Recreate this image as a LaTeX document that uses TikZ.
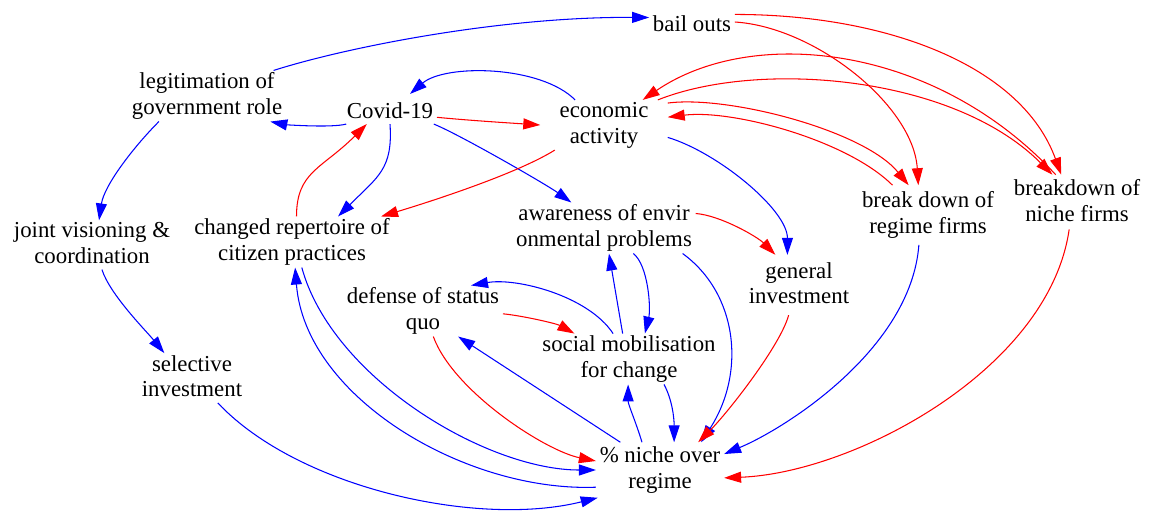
\documentclass[tikz,border=0pt]{standalone}
\usepackage{fontspec}
\setmainfont{Liberation Serif}
\usetikzlibrary{arrows.meta}

\newcommand{\varstrut}{\rule[-2.2pt]{0pt}{14.75pt}}

\tikzset{
  var/.style={inner xsep=2pt, inner ysep=1pt, align=center,
    font=\fontsize{13}{14.75}\selectfont,
    execute at begin node=\varstrut, execute at end node=\varstrut},
  bluelink/.style={draw=blue, line width=0.6pt, -{Triangle[length=0.34cm, width=0.22cm]}},
  redlink/.style={draw=red, line width=0.6pt, -{Triangle[length=0.34cm, width=0.22cm]}}
}

\begin{document}
\begin{tikzpicture}[x=0.02cm, y=-0.02cm]
		\useasboundingbox (0,0) rectangle (1152,512);
		% 变量
		\node[var] (bail) at (692,22) {bail outs};
		\node[var] (legit) at (207,96) {legitimation of\\government role};
		\node[var] (covid) at (390,109) {Covid-19};
		\node[var, inner xsep=10.8pt] (econ) at (604,125) {economic\\activity};
		\node[var] (joint) at (92,245) {joint visioning \&\\coordination};
		\node[var] (changed) at (292,242) {changed repertoire of\\citizen practices};
		\node[var] (aware) at (604,228) {awareness of envir\\onmental problems};
		\node[var, inner ysep=3.4pt] (regime) at (928,215) {break down of\\regime firms};
		\node[var, inner ysep=2.3pt] (nichef) at (1077,202) {breakdown of\\niche firms};
		\node[var, inner ysep=4pt] (general) at (799,285) {general\\investment};
		\node[var] (defense) at (423,311) {defense of status\\quo};
		\node[var] (social) at (629,359) {social mobilisation\\for change};
		\node[var] (selective) at (192,378) {selective\\investment};
		\node[var, inner ysep=2.3pt] (pct) at (660,470) {\% niche over\\regime};
		
		% 上半部分
		\draw[bluelink] (legit.21) .. controls +(72,-23) and +(-148,-1) .. (bail.174);
		\draw[bluelink] (covid.199) .. controls +(-15,4) and +(15,3) .. (legit.-22);
		\draw[bluelink] (econ.139) .. controls +(-35,-35) and +(35,-30) .. (covid.37);
		\draw[redlink] (covid.-10) .. controls +(30,3) and +(-30,-2) .. (econ.180);
		\draw[bluelink] (covid.-90) .. controls +(3,45) and +(40,-40) .. (changed.29);
		\draw[redlink] (changed.80) .. controls +(0,-45) and +(-45,45) .. (covid.213);
		\draw[bluelink] (covid.-19) .. controls +(25,10) and +(-25,-18) .. (aware.142);
		\draw[redlink] (econ.207) .. controls +(-40,25) and +(40,-12) .. (changed.16);
		\draw[bluelink] (legit.208) .. controls +(-25,25) and +(5,-35) .. (joint.74);
		\draw[bluelink] (joint.-68) .. controls +(8,25) and +(-18,-22) .. (selective.138);
		
		% 右上
		\draw[redlink] (bail.0) .. controls +(80,5) and +(-5,-80) .. (regime.108);
		\draw[redlink] (bail.10) .. controls +(150,0) and +(-40,-110) .. (nichef.120);
		\draw[redlink] (econ.19) .. controls +(60,-8) and +(-45,-55) .. (regime.123);
		\draw[redlink] (regime.140) .. controls +(-45,-45) and +(65,-8) .. (econ.7);
		\draw[redlink] (econ.25) .. controls +(100,-40) and +(-100,-100) .. (nichef.132);
		\draw[redlink] (nichef.128) .. controls +(-120,-130) and +(110,-75) .. (econ.33);
		\draw[bluelink] (econ.-11) .. controls +(50,15) and +(0,-45) .. (general.111);
		\draw[redlink] (aware.9) .. controls +(25,2) and +(-18,-18) .. (general.128);
		
		% 中间
		\draw[bluelink] (social.104) -- (aware.-79);
		\draw[bluelink] (aware.-41) .. controls +(15,12) and +(6,-25) .. (social.58);
		\draw[bluelink] (social.122) .. controls +(-25,-38) and +(45,-8) .. (defense.28);
		\draw[redlink] (defense.-2) .. controls +(20,2) and +(-18,-10) .. (social.155);
		
		% 指向 % niche over regime
		\draw[bluelink] (aware.-18) .. controls +(55,40) and +(45,-70) .. (pct.34);
		\draw[redlink] (general.-109) .. controls +(-8,30) and +(30,-30) .. (pct.36);
		\draw[bluelink] (regime.-107) .. controls +(-8,105) and +(60,-25) .. (pct.14);
		\draw[redlink] (nichef.-106) .. controls +(-20,140) and +(130,-5) .. (pct.-7);
		\draw[bluelink] (pct.123) .. controls +(-6,-20) and +(0,20) .. (social.-92);
		\draw[bluelink] (social.-36) .. controls +(8,15) and +(0,-25) .. (pct.63);
		\draw[bluelink] (pct.145) -- (defense.-36);
		\draw[redlink] (defense.-68) .. controls +(20,55) and +(-50,-10) .. (pct.172);
		\draw[bluelink] (changed.-69) .. controls +(30,110) and +(-110,0) .. (pct.180);
		\draw[bluelink] (pct.195) .. controls +(-130,5) and +(10,130) .. (changed.-83);
		\draw[bluelink] (selective.-44) .. controls +(80,85) and +(-120,30) .. (pct.204);
	\end{tikzpicture}
\end{document}
